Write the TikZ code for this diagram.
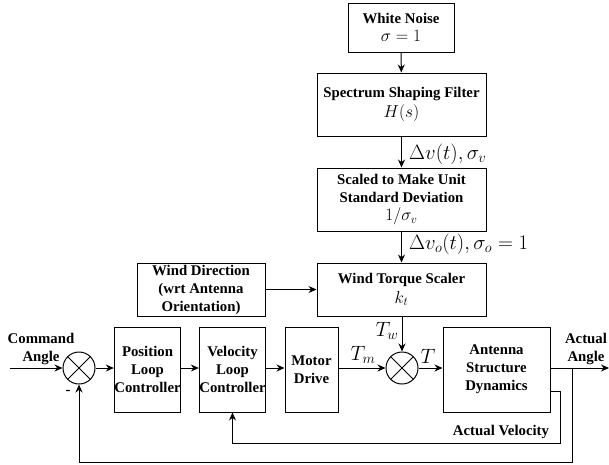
\documentclass[tikz,border=0pt]{standalone}
\usepackage{fontspec}
\setmainfont{Liberation Serif}
\usetikzlibrary{arrows.meta}
\newcommand{\bm}{\fontsize{18}{18}\selectfont}
\begin{document}
\begin{tikzpicture}[x=1pt,y=-1pt,
  blk/.style={draw, line width=1pt, align=center, inner sep=0pt,
    font=\fontsize{14.8}{18}\selectfont\bfseries},
  sumj/.style={draw, circle, line width=1pt, minimum size=32pt, inner sep=0pt,
    path picture={\draw[line width=1pt] (path picture bounding box.north west) -- (path picture bounding box.south east)
      (path picture bounding box.north east) -- (path picture bounding box.south west);}},
  arr/.style={-{Stealth[length=8pt,width=7pt]}, line width=1pt},
  lbl/.style={inner sep=0pt, font=\fontsize{20}{22}\selectfont},
  tlbl/.style={inner sep=0pt, font=\fontsize{21}{22}\selectfont},
  txt/.style={inner sep=0pt, align=center, font=\fontsize{14.8}{18}\selectfont\bfseries}
]
\useasboundingbox (0,0) rectangle (609,464);
% boxes
\node[blk, minimum width=106pt, minimum height=49pt] (wn) at (401,27.5) {White Noise\\[0pt] \bm$\sigma=1$};
\node[blk, minimum width=169pt, minimum height=63pt] (sf) at (401.5,104.5) {Spectrum Shaping Filter\\[2pt] \bm$H(s)$};
\node[blk, minimum width=169pt, minimum height=63pt] (sc) at (401.5,199.5) {Scaled to Make Unit\\Standard Deviation\\[0pt] \bm$1/\sigma_v$};
\node[blk, minimum width=169pt, minimum height=53pt] (wt) at (401.5,289.5) {Wind Torque Scaler\\[2pt] \bm$k_t$};
\node[blk, minimum width=128pt, minimum height=53pt] (wd) at (201,289.5) {Wind Direction\\(wrt Antenna\\Orientation)};
\node[blk, minimum width=65pt, minimum height=85pt] (pc) at (147.5,369.5) {Position\\Loop\\Controller};
\node[blk, minimum width=65pt, minimum height=85pt] (vc) at (232.5,369.5) {Velocity\\Loop\\Controller};
\node[blk, minimum width=53pt, minimum height=85pt] (md) at (311.5,369.5) {Motor\\Drive};
\node[blk, minimum width=107pt, minimum height=85pt] (ad) at (496.5,369.5) {Antenna\\Structure\\Dynamics};
\node[sumj] (s1) at (79,368) {};
\node[sumj] (s2) at (402,368) {};
% coordinates
\coordinate (in) at (10,368);
\coordinate (out) at (609,368);
\coordinate (br) at (572,368);
\coordinate (fb) at (0,462);
\coordinate (v1) at (560,391);
\coordinate (v2) at (0,443);
% vertical chain
\draw[arr] (wn) -- (sf);
\draw[arr] (sf) -- (sc);
\draw[arr] (sc) -- (wt);
\draw[arr] (wd) -- (wt);
\draw[arr] (wt.south -| s2) -- (s2);
% main row
\draw[arr] (in) -- (s1);
\draw[arr] (s1) -- (pc.west |- s1);
\draw[arr] (pc.east |- s1) -- (vc.west |- s1);
\draw[arr] (vc.east |- s1) -- (md.west |- s1);
\draw[arr] (md.east |- s2) -- (s2);
\draw[arr] (s2) -- (ad.west |- s2);
\draw[arr] (ad.east |- s2) -- (out);
% feedback
\draw[arr] (br) -- (br |- fb) -| (s1.south);
\draw[arr] (ad.east |- v1) -- (v1) -- (v1 |- v2) -| (vc.south);
% labels
\node[lbl, anchor=west] (l1) at (409,154) {$\Delta v(t),\sigma_v$};
\node[lbl, anchor=west] (l2) at (409,244) {$\Delta v_o(t),\sigma_o=1$};
\node[tlbl] (tw) at (387,331) {$T_w$};
\node[tlbl] (tm) at (363,355) {$T_m$};
\node[tlbl] (tt) at (428,356) {$T$};
\node[txt] (ca) at (41,349) {Command\\Angle};
\node[txt] (aa) at (586,349) {Actual\\Angle};
\node[txt] (av) at (501,432) {Actual Velocity};
\node[txt] (mn) at (68,392) {-};
\end{tikzpicture}
\end{document}
